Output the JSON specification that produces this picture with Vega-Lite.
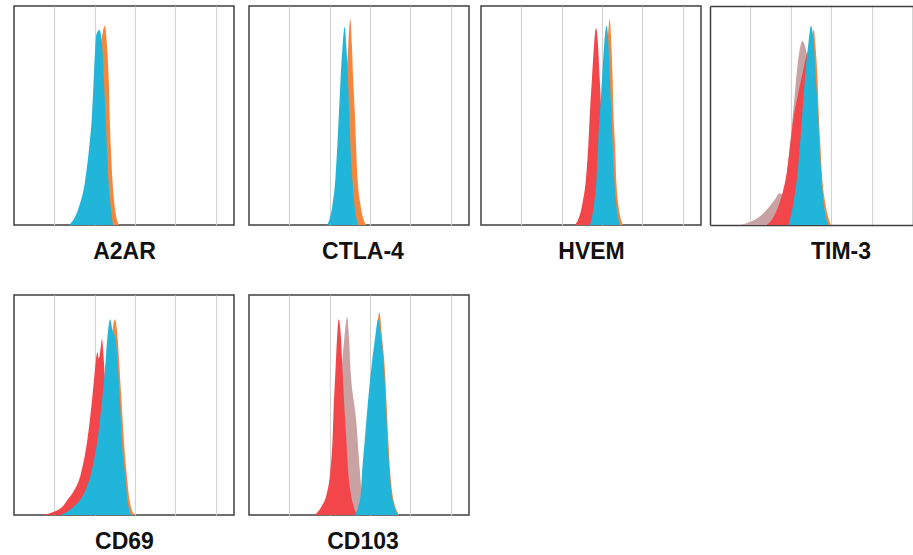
{
"$schema": "https://vega.github.io/schema/vega-lite/v6.json",
"padding": {"left": 13, "top": 5, "right": 0, "bottom": 0},
"background": "white",
"config": {
 "view": {"stroke": "#404040", "strokeWidth": 1.5},
 "axis": {"gridColor": "#d3d3d3", "gridWidth": 1.2, "titleFont": "Liberation Sans", "titleFontSize": 23, "titleFontWeight": "bold", "titleColor": "#111111", "titlePadding": 15, "domainColor": "#404040", "domainWidth": 1.5}
},
"data": {"values": [
{"p":"A2AR","s":"cyan","x":1.37,"y":0},{"p":"A2AR","s":"cyan","x":1.60,"y":7.8},{"p":"A2AR","s":"cyan","x":1.76,"y":20},{"p":"A2AR","s":"cyan","x":1.86,"y":35},{"p":"A2AR","s":"cyan","x":1.93,"y":50},{"p":"A2AR","s":"cyan","x":1.97,"y":65},{"p":"A2AR","s":"cyan","x":2.01,"y":80},{"p":"A2AR","s":"cyan","x":2.04,"y":87},{"p":"A2AR","s":"cyan","x":2.12,"y":89},{"p":"A2AR","s":"cyan","x":2.19,"y":80},{"p":"A2AR","s":"cyan","x":2.23,"y":65},{"p":"A2AR","s":"cyan","x":2.27,"y":50},{"p":"A2AR","s":"cyan","x":2.30,"y":35},{"p":"A2AR","s":"cyan","x":2.34,"y":20},{"p":"A2AR","s":"cyan","x":2.40,"y":7.8},{"p":"A2AR","s":"cyan","x":2.45,"y":0},
{"p":"A2AR","s":"orange","x":1.50,"y":0},{"p":"A2AR","s":"orange","x":1.72,"y":7.8},{"p":"A2AR","s":"orange","x":1.88,"y":20},{"p":"A2AR","s":"orange","x":1.98,"y":35},{"p":"A2AR","s":"orange","x":2.05,"y":50},{"p":"A2AR","s":"orange","x":2.09,"y":65},{"p":"A2AR","s":"orange","x":2.14,"y":80},{"p":"A2AR","s":"orange","x":2.20,"y":88},{"p":"A2AR","s":"orange","x":2.25,"y":91},{"p":"A2AR","s":"orange","x":2.31,"y":80},{"p":"A2AR","s":"orange","x":2.35,"y":65},{"p":"A2AR","s":"orange","x":2.37,"y":50},{"p":"A2AR","s":"orange","x":2.40,"y":35},{"p":"A2AR","s":"orange","x":2.44,"y":20},{"p":"A2AR","s":"orange","x":2.50,"y":7.8},{"p":"A2AR","s":"orange","x":2.60,"y":0},
{"p":"CTLA-4","s":"cyan","x":1.94,"y":0},{"p":"CTLA-4","s":"cyan","x":2.07,"y":9.5},{"p":"CTLA-4","s":"cyan","x":2.14,"y":21},{"p":"CTLA-4","s":"cyan","x":2.19,"y":37},{"p":"CTLA-4","s":"cyan","x":2.23,"y":52},{"p":"CTLA-4","s":"cyan","x":2.27,"y":67},{"p":"CTLA-4","s":"cyan","x":2.32,"y":82},{"p":"CTLA-4","s":"cyan","x":2.37,"y":90.5},{"p":"CTLA-4","s":"cyan","x":2.41,"y":82},{"p":"CTLA-4","s":"cyan","x":2.45,"y":67},{"p":"CTLA-4","s":"cyan","x":2.48,"y":52},{"p":"CTLA-4","s":"cyan","x":2.51,"y":37},{"p":"CTLA-4","s":"cyan","x":2.56,"y":21},{"p":"CTLA-4","s":"cyan","x":2.61,"y":9.5},{"p":"CTLA-4","s":"cyan","x":2.71,"y":0},
{"p":"CTLA-4","s":"orange","x":2.08,"y":0},{"p":"CTLA-4","s":"orange","x":2.21,"y":9.5},{"p":"CTLA-4","s":"orange","x":2.28,"y":21},{"p":"CTLA-4","s":"orange","x":2.33,"y":37},{"p":"CTLA-4","s":"orange","x":2.37,"y":52},{"p":"CTLA-4","s":"orange","x":2.41,"y":67},{"p":"CTLA-4","s":"orange","x":2.46,"y":82},{"p":"CTLA-4","s":"orange","x":2.51,"y":94},{"p":"CTLA-4","s":"orange","x":2.55,"y":82},{"p":"CTLA-4","s":"orange","x":2.58,"y":67},{"p":"CTLA-4","s":"orange","x":2.62,"y":52},{"p":"CTLA-4","s":"orange","x":2.65,"y":37},{"p":"CTLA-4","s":"orange","x":2.69,"y":21},{"p":"CTLA-4","s":"orange","x":2.76,"y":9.5},{"p":"CTLA-4","s":"orange","x":2.90,"y":0},
{"p":"HVEM","s":"red","x":2.33,"y":0},{"p":"HVEM","s":"red","x":2.51,"y":9.5},{"p":"HVEM","s":"red","x":2.60,"y":21},{"p":"HVEM","s":"red","x":2.66,"y":37},{"p":"HVEM","s":"red","x":2.70,"y":52},{"p":"HVEM","s":"red","x":2.75,"y":67},{"p":"HVEM","s":"red","x":2.80,"y":82},{"p":"HVEM","s":"red","x":2.85,"y":90},{"p":"HVEM","s":"red","x":2.90,"y":82},{"p":"HVEM","s":"red","x":2.94,"y":67},{"p":"HVEM","s":"red","x":2.98,"y":52},{"p":"HVEM","s":"red","x":3.02,"y":37},{"p":"HVEM","s":"red","x":3.06,"y":21},{"p":"HVEM","s":"red","x":3.10,"y":9.5},{"p":"HVEM","s":"red","x":3.20,"y":0},
{"p":"HVEM","s":"orange","x":2.78,"y":0},{"p":"HVEM","s":"orange","x":2.88,"y":9.5},{"p":"HVEM","s":"orange","x":2.94,"y":21},{"p":"HVEM","s":"orange","x":2.98,"y":37},{"p":"HVEM","s":"orange","x":3.03,"y":52},{"p":"HVEM","s":"orange","x":3.08,"y":67},{"p":"HVEM","s":"orange","x":3.13,"y":82},{"p":"HVEM","s":"orange","x":3.19,"y":94},{"p":"HVEM","s":"orange","x":3.23,"y":82},{"p":"HVEM","s":"orange","x":3.26,"y":67},{"p":"HVEM","s":"orange","x":3.28,"y":52},{"p":"HVEM","s":"orange","x":3.32,"y":37},{"p":"HVEM","s":"orange","x":3.35,"y":21},{"p":"HVEM","s":"orange","x":3.40,"y":9.5},{"p":"HVEM","s":"orange","x":3.52,"y":0},
{"p":"HVEM","s":"cyan","x":2.70,"y":0},{"p":"HVEM","s":"cyan","x":2.80,"y":9.5},{"p":"HVEM","s":"cyan","x":2.86,"y":21},{"p":"HVEM","s":"cyan","x":2.90,"y":37},{"p":"HVEM","s":"cyan","x":2.95,"y":52},{"p":"HVEM","s":"cyan","x":3.00,"y":67},{"p":"HVEM","s":"cyan","x":3.05,"y":82},{"p":"HVEM","s":"cyan","x":3.11,"y":91},{"p":"HVEM","s":"cyan","x":3.16,"y":82},{"p":"HVEM","s":"cyan","x":3.19,"y":67},{"p":"HVEM","s":"cyan","x":3.23,"y":52},{"p":"HVEM","s":"cyan","x":3.26,"y":37},{"p":"HVEM","s":"cyan","x":3.30,"y":21},{"p":"HVEM","s":"cyan","x":3.35,"y":9.5},{"p":"HVEM","s":"cyan","x":3.44,"y":0},
{"p":"TIM-3","s":"grey","x":0.74,"y":0},{"p":"TIM-3","s":"grey","x":1.0,"y":1.5},{"p":"TIM-3","s":"grey","x":1.24,"y":4},{"p":"TIM-3","s":"grey","x":1.45,"y":8},{"p":"TIM-3","s":"grey","x":1.62,"y":12},{"p":"TIM-3","s":"grey","x":1.72,"y":14.5},{"p":"TIM-3","s":"grey","x":1.80,"y":14},{"p":"TIM-3","s":"grey","x":1.86,"y":17},{"p":"TIM-3","s":"grey","x":1.92,"y":26},{"p":"TIM-3","s":"grey","x":1.98,"y":36},{"p":"TIM-3","s":"grey","x":2.04,"y":48},{"p":"TIM-3","s":"grey","x":2.10,"y":60},{"p":"TIM-3","s":"grey","x":2.16,"y":72},{"p":"TIM-3","s":"grey","x":2.22,"y":80},{"p":"TIM-3","s":"grey","x":2.29,"y":84},{"p":"TIM-3","s":"grey","x":2.36,"y":81},{"p":"TIM-3","s":"grey","x":2.45,"y":72},{"p":"TIM-3","s":"grey","x":2.55,"y":50},{"p":"TIM-3","s":"grey","x":2.65,"y":22},{"p":"TIM-3","s":"grey","x":2.75,"y":4},{"p":"TIM-3","s":"grey","x":2.82,"y":0},
{"p":"TIM-3","s":"red","x":1.40,"y":0},{"p":"TIM-3","s":"red","x":1.55,"y":3},{"p":"TIM-3","s":"red","x":1.68,"y":8},{"p":"TIM-3","s":"red","x":1.80,"y":15},{"p":"TIM-3","s":"red","x":1.90,"y":24},{"p":"TIM-3","s":"red","x":1.98,"y":36},{"p":"TIM-3","s":"red","x":2.06,"y":48},{"p":"TIM-3","s":"red","x":2.16,"y":58},{"p":"TIM-3","s":"red","x":2.30,"y":70},{"p":"TIM-3","s":"red","x":2.40,"y":78},{"p":"TIM-3","s":"red","x":2.48,"y":80},{"p":"TIM-3","s":"red","x":2.56,"y":65},{"p":"TIM-3","s":"red","x":2.64,"y":40},{"p":"TIM-3","s":"red","x":2.74,"y":12},{"p":"TIM-3","s":"red","x":2.84,"y":0},
{"p":"TIM-3","s":"orange","x":2.00,"y":0},{"p":"TIM-3","s":"orange","x":2.12,"y":9.5},{"p":"TIM-3","s":"orange","x":2.21,"y":21},{"p":"TIM-3","s":"orange","x":2.29,"y":37},{"p":"TIM-3","s":"orange","x":2.35,"y":52},{"p":"TIM-3","s":"orange","x":2.41,"y":67},{"p":"TIM-3","s":"orange","x":2.49,"y":82},{"p":"TIM-3","s":"orange","x":2.57,"y":89},{"p":"TIM-3","s":"orange","x":2.61,"y":82},{"p":"TIM-3","s":"orange","x":2.66,"y":67},{"p":"TIM-3","s":"orange","x":2.69,"y":52},{"p":"TIM-3","s":"orange","x":2.73,"y":37},{"p":"TIM-3","s":"orange","x":2.78,"y":21},{"p":"TIM-3","s":"orange","x":2.86,"y":9.5},{"p":"TIM-3","s":"orange","x":2.99,"y":0},
{"p":"TIM-3","s":"cyan","x":1.94,"y":0},{"p":"TIM-3","s":"cyan","x":2.06,"y":9.5},{"p":"TIM-3","s":"cyan","x":2.15,"y":21},{"p":"TIM-3","s":"cyan","x":2.23,"y":37},{"p":"TIM-3","s":"cyan","x":2.29,"y":52},{"p":"TIM-3","s":"cyan","x":2.35,"y":67},{"p":"TIM-3","s":"cyan","x":2.43,"y":82},{"p":"TIM-3","s":"cyan","x":2.50,"y":91},{"p":"TIM-3","s":"cyan","x":2.57,"y":82},{"p":"TIM-3","s":"cyan","x":2.62,"y":67},{"p":"TIM-3","s":"cyan","x":2.67,"y":52},{"p":"TIM-3","s":"cyan","x":2.71,"y":37},{"p":"TIM-3","s":"cyan","x":2.76,"y":21},{"p":"TIM-3","s":"cyan","x":2.82,"y":9.5},{"p":"TIM-3","s":"cyan","x":2.93,"y":0},
{"p":"CD69","s":"red","x":0.66,"y":0},{"p":"CD69","s":"red","x":0.99,"y":1.5},{"p":"CD69","s":"red","x":1.21,"y":4},{"p":"CD69","s":"red","x":1.33,"y":7},{"p":"CD69","s":"red","x":1.45,"y":10},{"p":"CD69","s":"red","x":1.66,"y":19},{"p":"CD69","s":"red","x":1.82,"y":34.5},{"p":"CD69","s":"red","x":1.92,"y":50},{"p":"CD69","s":"red","x":2.00,"y":65},{"p":"CD69","s":"red","x":2.04,"y":72},{"p":"CD69","s":"red","x":2.07,"y":74},{"p":"CD69","s":"red","x":2.10,"y":71},{"p":"CD69","s":"red","x":2.14,"y":75},{"p":"CD69","s":"red","x":2.18,"y":80},{"p":"CD69","s":"red","x":2.22,"y":72},{"p":"CD69","s":"red","x":2.26,"y":60},{"p":"CD69","s":"red","x":2.35,"y":40},{"p":"CD69","s":"red","x":2.45,"y":20},{"p":"CD69","s":"red","x":2.55,"y":5},{"p":"CD69","s":"red","x":2.65,"y":0},
{"p":"CD69","s":"orange","x":1.28,"y":0},{"p":"CD69","s":"orange","x":1.60,"y":4},{"p":"CD69","s":"orange","x":1.85,"y":10},{"p":"CD69","s":"orange","x":2.02,"y":19},{"p":"CD69","s":"orange","x":2.18,"y":34.5},{"p":"CD69","s":"orange","x":2.28,"y":50},{"p":"CD69","s":"orange","x":2.36,"y":65},{"p":"CD69","s":"orange","x":2.42,"y":80},{"p":"CD69","s":"orange","x":2.50,"y":89},{"p":"CD69","s":"orange","x":2.57,"y":80},{"p":"CD69","s":"orange","x":2.62,"y":65},{"p":"CD69","s":"orange","x":2.67,"y":50},{"p":"CD69","s":"orange","x":2.72,"y":34.5},{"p":"CD69","s":"orange","x":2.79,"y":19},{"p":"CD69","s":"orange","x":2.86,"y":7},{"p":"CD69","s":"orange","x":2.98,"y":0},
{"p":"CD69","s":"cyan","x":1.16,"y":0},{"p":"CD69","s":"cyan","x":1.49,"y":4},{"p":"CD69","s":"cyan","x":1.74,"y":10},{"p":"CD69","s":"cyan","x":1.91,"y":19},{"p":"CD69","s":"cyan","x":2.07,"y":34.5},{"p":"CD69","s":"cyan","x":2.17,"y":50},{"p":"CD69","s":"cyan","x":2.25,"y":65},{"p":"CD69","s":"cyan","x":2.31,"y":80},{"p":"CD69","s":"cyan","x":2.38,"y":89},{"p":"CD69","s":"cyan","x":2.44,"y":84},{"p":"CD69","s":"cyan","x":2.52,"y":80},{"p":"CD69","s":"cyan","x":2.58,"y":65},{"p":"CD69","s":"cyan","x":2.63,"y":50},{"p":"CD69","s":"cyan","x":2.67,"y":34.5},{"p":"CD69","s":"cyan","x":2.75,"y":19},{"p":"CD69","s":"cyan","x":2.81,"y":7},{"p":"CD69","s":"cyan","x":2.90,"y":0},
{"p":"CD103","s":"grey","x":1.80,"y":0},{"p":"CD103","s":"grey","x":2.00,"y":10},{"p":"CD103","s":"grey","x":2.10,"y":25},{"p":"CD103","s":"grey","x":2.20,"y":45},{"p":"CD103","s":"grey","x":2.26,"y":57},{"p":"CD103","s":"grey","x":2.29,"y":65},{"p":"CD103","s":"grey","x":2.36,"y":80},{"p":"CD103","s":"grey","x":2.43,"y":90},{"p":"CD103","s":"grey","x":2.48,"y":80},{"p":"CD103","s":"grey","x":2.52,"y":65},{"p":"CD103","s":"grey","x":2.61,"y":50},{"p":"CD103","s":"grey","x":2.66,"y":42},{"p":"CD103","s":"grey","x":2.69,"y":34.5},{"p":"CD103","s":"grey","x":2.75,"y":19},{"p":"CD103","s":"grey","x":2.79,"y":10},{"p":"CD103","s":"grey","x":2.86,"y":0},
{"p":"CD103","s":"red","x":1.62,"y":0},{"p":"CD103","s":"red","x":1.80,"y":4},{"p":"CD103","s":"red","x":1.93,"y":10},{"p":"CD103","s":"red","x":2.01,"y":19},{"p":"CD103","s":"red","x":2.07,"y":34.5},{"p":"CD103","s":"red","x":2.10,"y":50},{"p":"CD103","s":"red","x":2.14,"y":65},{"p":"CD103","s":"red","x":2.18,"y":80},{"p":"CD103","s":"red","x":2.22,"y":89},{"p":"CD103","s":"red","x":2.28,"y":80},{"p":"CD103","s":"red","x":2.32,"y":65},{"p":"CD103","s":"red","x":2.36,"y":50},{"p":"CD103","s":"red","x":2.41,"y":34.5},{"p":"CD103","s":"red","x":2.46,"y":19},{"p":"CD103","s":"red","x":2.52,"y":10},{"p":"CD103","s":"red","x":2.59,"y":4},{"p":"CD103","s":"red","x":2.69,"y":0},
{"p":"CD103","s":"orange","x":2.64,"y":0},{"p":"CD103","s":"orange","x":2.74,"y":4},{"p":"CD103","s":"orange","x":2.80,"y":10},{"p":"CD103","s":"orange","x":2.84,"y":19},{"p":"CD103","s":"orange","x":2.90,"y":34.5},{"p":"CD103","s":"orange","x":2.96,"y":50},{"p":"CD103","s":"orange","x":3.04,"y":65},{"p":"CD103","s":"orange","x":3.14,"y":80},{"p":"CD103","s":"orange","x":3.23,"y":92},{"p":"CD103","s":"orange","x":3.30,"y":80},{"p":"CD103","s":"orange","x":3.37,"y":65},{"p":"CD103","s":"orange","x":3.41,"y":50},{"p":"CD103","s":"orange","x":3.45,"y":34.5},{"p":"CD103","s":"orange","x":3.50,"y":19},{"p":"CD103","s":"orange","x":3.55,"y":10},{"p":"CD103","s":"orange","x":3.62,"y":4},{"p":"CD103","s":"orange","x":3.72,"y":0},
{"p":"CD103","s":"cyan","x":2.61,"y":0},{"p":"CD103","s":"cyan","x":2.71,"y":4},{"p":"CD103","s":"cyan","x":2.77,"y":10},{"p":"CD103","s":"cyan","x":2.80,"y":19},{"p":"CD103","s":"cyan","x":2.87,"y":34.5},{"p":"CD103","s":"cyan","x":2.94,"y":50},{"p":"CD103","s":"cyan","x":3.02,"y":65},{"p":"CD103","s":"cyan","x":3.12,"y":80},{"p":"CD103","s":"cyan","x":3.20,"y":89},{"p":"CD103","s":"cyan","x":3.28,"y":80},{"p":"CD103","s":"cyan","x":3.35,"y":65},{"p":"CD103","s":"cyan","x":3.39,"y":50},{"p":"CD103","s":"cyan","x":3.43,"y":34.5},{"p":"CD103","s":"cyan","x":3.48,"y":19},{"p":"CD103","s":"cyan","x":3.53,"y":10},{"p":"CD103","s":"cyan","x":3.60,"y":4},{"p":"CD103","s":"cyan","x":3.70,"y":0}
]},
"spacing": 30,
"vconcat": [
 {"spacing": 10, "hconcat": [
  {"spacing": 13, "hconcat": [
   {"width": 220, "height": 219,
    "transform": [{"filter": "datum.p === 'A2AR'"}],
    "encoding": {
     "x": {"field": "x", "type": "quantitative", "scale": {"domain": [0, 5.45], "nice": false, "zero": false}, "axis": {"values": [1,2,3,4,5], "grid": true, "labels": false, "ticks": false, "domain": false, "title": "A2AR"}},
     "y": {"field": "y", "type": "quantitative", "stack": null, "scale": {"domain": [0, 100], "nice": false}, "axis": null},
     "color": {"field": "s", "type": "nominal", "scale": {"domain": ["grey","red","orange","cyan"], "range": ["#c9a2a3","#f2464b","#f5863d","#21b5d9"]}, "legend": null}
    },
    "layer": [
     {"transform": [{"filter": "datum.s === 'grey'"}], "mark": {"type": "area", "interpolate": "monotone"}},
     {"transform": [{"filter": "datum.s === 'red'"}], "mark": {"type": "area", "interpolate": "monotone"}},
     {"transform": [{"filter": "datum.s === 'orange'"}], "mark": {"type": "area", "interpolate": "monotone"}},
     {"transform": [{"filter": "datum.s === 'cyan'"}], "mark": {"type": "area", "interpolate": "monotone"}}
    ]},
   {"width": 220, "height": 219,
    "transform": [{"filter": "datum.p === 'CTLA-4'"}],
    "encoding": {
     "x": {"field": "x", "type": "quantitative", "scale": {"domain": [0, 5.45], "nice": false, "zero": false}, "axis": {"values": [1,2,3,4,5], "grid": true, "labels": false, "ticks": false, "domain": false, "title": "CTLA-4", "titleX": 113.5}},
     "y": {"field": "y", "type": "quantitative", "stack": null, "scale": {"domain": [0, 100], "nice": false}, "axis": null},
     "color": {"field": "s", "type": "nominal", "scale": {"domain": ["grey","red","orange","cyan"], "range": ["#c9a2a3","#f2464b","#f5863d","#21b5d9"]}, "legend": null}
    },
    "layer": [
     {"transform": [{"filter": "datum.s === 'grey'"}], "mark": {"type": "area", "interpolate": "monotone"}},
     {"transform": [{"filter": "datum.s === 'red'"}], "mark": {"type": "area", "interpolate": "monotone"}},
     {"transform": [{"filter": "datum.s === 'orange'"}], "mark": {"type": "area", "interpolate": "monotone"}},
     {"transform": [{"filter": "datum.s === 'cyan'"}], "mark": {"type": "area", "interpolate": "monotone"}}
    ]}
  ]},
  {"spacing": 8, "hconcat": [
   {"width": 220, "height": 219,
    "transform": [{"filter": "datum.p === 'HVEM'"}],
    "encoding": {
     "x": {"field": "x", "type": "quantitative", "scale": {"domain": [0, 5.45], "nice": false, "zero": false}, "axis": {"values": [1,2,3,4,5], "grid": true, "labels": false, "ticks": false, "domain": false, "title": "HVEM"}},
     "y": {"field": "y", "type": "quantitative", "stack": null, "scale": {"domain": [0, 100], "nice": false}, "axis": null},
     "color": {"field": "s", "type": "nominal", "scale": {"domain": ["grey","red","orange","cyan"], "range": ["#c9a2a3","#f2464b","#f5863d","#21b5d9"]}, "legend": null}
    },
    "layer": [
     {"transform": [{"filter": "datum.s === 'grey'"}], "mark": {"type": "area", "interpolate": "monotone"}},
     {"transform": [{"filter": "datum.s === 'red'"}], "mark": {"type": "area", "interpolate": "monotone"}},
     {"transform": [{"filter": "datum.s === 'orange'"}], "mark": {"type": "area", "interpolate": "monotone"}},
     {"transform": [{"filter": "datum.s === 'cyan'"}], "mark": {"type": "area", "interpolate": "monotone"}}
    ]},
   {"width": 203, "height": 219, "view": {"stroke": null},
    "transform": [{"filter": "datum.p === 'TIM-3'"}],
    "layer": [
     {"transform": [{"filter": "datum.s === 'grey'"}], "mark": {"type": "area", "interpolate": "monotone"},
      "encoding": {
       "x": {"field": "x", "type": "quantitative", "scale": {"domain": [0, 5.025], "nice": false, "zero": false}, "axis": {"orient": "top", "grid": false, "labels": false, "ticks": false, "domain": true, "title": null}},
       "y": {"field": "y", "type": "quantitative", "stack": null, "scale": {"domain": [0, 100], "nice": false}, "axis": {"orient": "left", "grid": false, "labels": false, "ticks": false, "domain": true, "title": null}},
       "color": {"field": "s", "type": "nominal", "scale": {"domain": ["grey","red","orange","cyan"], "range": ["#c9a2a3","#f2464b","#f5863d","#21b5d9"]}, "legend": null}}},
     {"transform": [{"filter": "datum.s === 'red'"}], "mark": {"type": "area", "interpolate": "monotone"},
      "encoding": {
       "x": {"field": "x", "type": "quantitative", "scale": {"domain": [0, 5.025], "nice": false, "zero": false}, "axis": {"orient": "bottom", "values": [1,2,3,4,5], "grid": true, "labels": false, "ticks": false, "domain": true, "title": "TIM-3", "titleX": 130.5}},
       "y": {"field": "y", "type": "quantitative", "stack": null, "scale": {"domain": [0, 100], "nice": false}, "axis": null},
       "color": {"field": "s", "type": "nominal", "scale": {"domain": ["grey","red","orange","cyan"], "range": ["#c9a2a3","#f2464b","#f5863d","#21b5d9"]}, "legend": null}}},
     {"transform": [{"filter": "datum.s === 'orange'"}], "mark": {"type": "area", "interpolate": "monotone"},
      "encoding": {
       "x": {"field": "x", "type": "quantitative", "scale": {"domain": [0, 5.025], "nice": false, "zero": false}, "axis": null},
       "y": {"field": "y", "type": "quantitative", "stack": null, "scale": {"domain": [0, 100], "nice": false}, "axis": null},
       "color": {"field": "s", "type": "nominal", "scale": {"domain": ["grey","red","orange","cyan"], "range": ["#c9a2a3","#f2464b","#f5863d","#21b5d9"]}, "legend": null}}},
     {"transform": [{"filter": "datum.s === 'cyan'"}], "mark": {"type": "area", "interpolate": "monotone"},
      "encoding": {
       "x": {"field": "x", "type": "quantitative", "scale": {"domain": [0, 5.025], "nice": false, "zero": false}, "axis": null},
       "y": {"field": "y", "type": "quantitative", "stack": null, "scale": {"domain": [0, 100], "nice": false}, "axis": null},
       "color": {"field": "s", "type": "nominal", "scale": {"domain": ["grey","red","orange","cyan"], "range": ["#c9a2a3","#f2464b","#f5863d","#21b5d9"]}, "legend": null}}}
    ],
    "resolve": {"axis": {"x": "independent", "y": "independent"}}}
  ]}
 ]},
 {"spacing": 13, "hconcat": [
  {"width": 220, "height": 220,
   "transform": [{"filter": "datum.p === 'CD69'"}],
   "encoding": {
    "x": {"field": "x", "type": "quantitative", "scale": {"domain": [0, 5.45], "nice": false, "zero": false}, "axis": {"values": [1,2,3,4,5], "grid": true, "labels": false, "ticks": false, "domain": false, "title": "CD69"}},
    "y": {"field": "y", "type": "quantitative", "stack": null, "scale": {"domain": [0, 100], "nice": false}, "axis": null},
    "color": {"field": "s", "type": "nominal", "scale": {"domain": ["grey","red","orange","cyan"], "range": ["#c9a2a3","#f2464b","#f5863d","#21b5d9"]}, "legend": null}
   },
   "layer": [
    {"transform": [{"filter": "datum.s === 'grey'"}], "mark": {"type": "area", "interpolate": "monotone"}},
    {"transform": [{"filter": "datum.s === 'red'"}], "mark": {"type": "area", "interpolate": "monotone"}},
    {"transform": [{"filter": "datum.s === 'orange'"}], "mark": {"type": "area", "interpolate": "monotone"}},
    {"transform": [{"filter": "datum.s === 'cyan'"}], "mark": {"type": "area", "interpolate": "monotone"}}
   ]},
  {"width": 220, "height": 220,
   "transform": [{"filter": "datum.p === 'CD103'"}],
   "encoding": {
    "x": {"field": "x", "type": "quantitative", "scale": {"domain": [0, 5.45], "nice": false, "zero": false}, "axis": {"values": [1,2,3,4,5], "grid": true, "labels": false, "ticks": false, "domain": false, "title": "CD103", "titleX": 113.5}},
    "y": {"field": "y", "type": "quantitative", "stack": null, "scale": {"domain": [0, 100], "nice": false}, "axis": null},
    "color": {"field": "s", "type": "nominal", "scale": {"domain": ["grey","red","orange","cyan"], "range": ["#c9a2a3","#f2464b","#f5863d","#21b5d9"]}, "legend": null}
   },
   "layer": [
    {"transform": [{"filter": "datum.s === 'grey'"}], "mark": {"type": "area", "interpolate": "monotone"}},
    {"transform": [{"filter": "datum.s === 'red'"}], "mark": {"type": "area", "interpolate": "monotone"}},
    {"transform": [{"filter": "datum.s === 'orange'"}], "mark": {"type": "area", "interpolate": "monotone"}},
    {"transform": [{"filter": "datum.s === 'cyan'"}], "mark": {"type": "area", "interpolate": "monotone"}}
   ]}
 ]}
]
}
